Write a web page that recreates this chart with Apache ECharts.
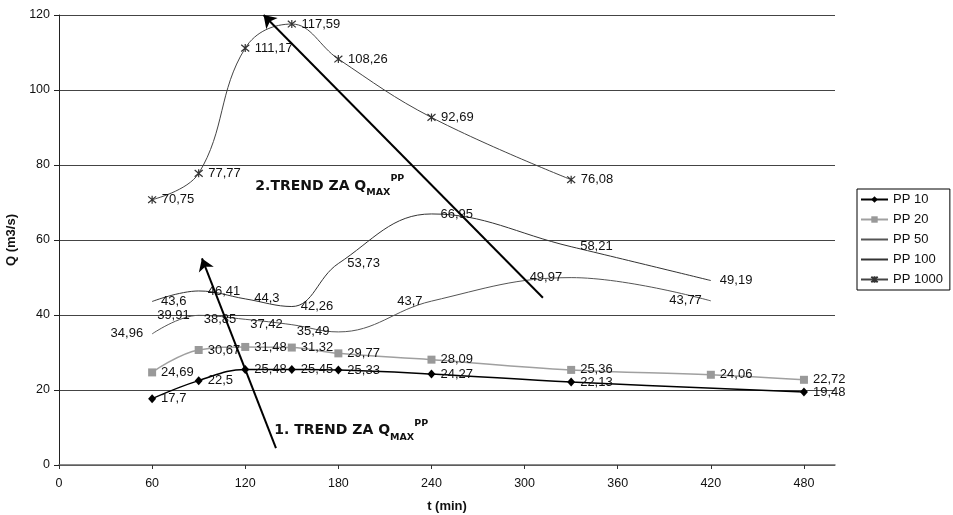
<!DOCTYPE html>
<html>
<head>
<meta charset="utf-8">
<script src="https://cdn.jsdelivr.net/npm/echarts@6/dist/echarts.min.js"></script>
<style>
html,body{margin:0;padding:0;background:#fff;}
#chart{width:953px;height:515px;}
</style>
</head>
<body>
<div id="chart"></div>
<script>
// ---- data ----
const seriesNames = ['PP 10', 'PP 20', 'PP 50', 'PP 100', 'PP 1000'];
const tPP10 = [60, 90, 120, 150, 180, 240, 330, 480];
const qPP10 = [17.7, 22.5, 25.48, 25.45, 25.33, 24.27, 22.13, 19.48];
const tPP20 = [60, 90, 120, 150, 180, 240, 330, 420, 480];
const qPP20 = [24.69, 30.67, 31.48, 31.32, 29.77, 28.09, 25.36, 24.06, 22.72];
const tPP50 = [60, 90, 120, 150, 180, 240, 330, 420];
const qPP50 = [34.96, 39.91, 38.85, 37.42, 35.49, 43.7, 49.97, 43.77];
const tPP100 = [60, 90, 120, 150, 180, 240, 330, 420];
const qPP100 = [43.6, 46.41, 44.3, 42.26, 53.73, 66.95, 58.21, 49.19];
const tPP1000 = [60, 90, 120, 150, 180, 240, 330];
const qPP1000 = [70.75, 77.77, 111.17, 117.59, 108.26, 92.69, 76.08];
const xTicks = [0, 60, 120, 180, 240, 300, 360, 420, 480];
// trend arrows in data coordinates: [from, to]
const trend1 = [[139.8, 4.5], [92.1, 55.1]];
const trend2 = [[311.8, 44.6], [131.8, 120]];
// annotation text anchors (left edge, vertical middle) in data coordinates
const note1Pos = [138.7, 9.3];
const note2Pos = [126.5, 74.4];
const note1Text = ['1. TREND ZA Q', 'MAX', 'PP'];
const note2Text = ['2.TREND ZA Q', 'MAX', 'PP'];

const pairs = (xs, ys) => xs.map((x, i) => [x, ys[i]]);
const fmt = p => String(p.value[1]).replace('.', ',');
const FONT = 'Liberation Sans, Arial, sans-serif';
const labelBase = {
  show: true, position: 'right', distance: 5, formatter: fmt,
  color: '#111', fontSize: 13, fontFamily: FONT
};
const VFONT = 'DejaVu Sans, Verdana, sans-serif';
const richNote = {
  b: {fontFamily: VFONT, fontWeight: 'bold', fontSize: 14, color: '#111', lineHeight: 24, verticalAlign: 'middle'},
  sub: {fontFamily: VFONT, fontWeight: 'bold', fontSize: 9.5, color: '#111', lineHeight: 14, verticalAlign: 'bottom'},
  sup: {fontFamily: VFONT, fontWeight: 'bold', fontSize: 9.5, color: '#111', lineHeight: 13, verticalAlign: 'top'}
};
const noteFmt = parts => '{b|' + parts[0] + '}{sub|' + parts[1] + '}{sup|' + parts[2] + '}';
const asterisk = 'path://M0,0L10,10M10,0L0,10M5,-1L5,11';

const chart = echarts.init(document.getElementById('chart'), null, {renderer: 'canvas'});
chart.setOption({
  animation: false,
  backgroundColor: '#fff',
  grid: {left: 59, right: 118, top: 15, bottom: 50, containLabel: false, outerBoundsMode: 'none'},
  legend: {
    orient: 'vertical', left: 857, top: 189,
    data: seriesNames,
    itemWidth: 27, itemHeight: 8, itemGap: 7,
    padding: [4, 7, 4, 3],
    borderColor: '#000', borderWidth: 1,
    textStyle: {fontSize: 13, color: '#111', fontFamily: FONT},
    selectedMode: false
  },
  xAxis: {
    type: 'value', min: 0, max: 500, interval: 60,
    name: 't (min)', nameLocation: 'middle', nameGap: 35,
    nameTextStyle: {fontSize: 13, fontWeight: 'bold', color: '#111', fontFamily: FONT},
    axisLine: {lineStyle: {color: '#666', width: 1.5}},
    axisTick: {show: true, length: 4, lineStyle: {color: '#333'}, customValues: xTicks},
    axisLabel: {fontSize: 12.5, color: '#111', margin: 12, fontFamily: FONT, customValues: xTicks},
    splitLine: {show: false}
  },
  yAxis: {
    type: 'value', min: 0, max: 120, interval: 20,
    name: 'Q (m3/s)', nameLocation: 'middle', nameGap: 37,
    nameTextStyle: {fontSize: 13, fontWeight: 'bold', color: '#111', fontFamily: FONT},
    axisLine: {show: true, lineStyle: {color: '#222', width: 1}},
    axisTick: {show: true, length: 5, lineStyle: {color: '#222'}},
    axisLabel: {fontSize: 12.5, color: '#111', margin: 9, fontFamily: FONT},
    splitLine: {show: true, lineStyle: {color: '#444', width: 1}}
  },
  series: [
    {
      name: 'PP 10', type: 'line', smooth: 0.4,
      data: pairs(tPP10, qPP10),
      symbol: 'diamond', symbolSize: [8, 9],
      itemStyle: {color: '#000'},
      lineStyle: {color: '#000', width: 1.5},
      label: labelBase,
      z: 5,
      markLine: {
        silent: true, symbol: ['none', 'arrow'], symbolSize: 12,
        lineStyle: {color: '#000', width: 2, type: 'solid'},
        itemStyle: {color: '#000'},
        label: {show: false},
        emphasis: {disabled: true},
        data: [
          [{coord: trend1[0]}, {coord: trend1[1]}],
          [{coord: trend2[0]}, {coord: trend2[1]}]
        ]
      },
      markPoint: {
        silent: true, symbol: 'circle', symbolSize: 0,
        label: {show: true, position: 'right', distance: 0, rich: richNote},
        data: [
          {coord: note1Pos, label: {formatter: noteFmt(note1Text)}},
          {coord: note2Pos, label: {formatter: noteFmt(note2Text)}}
        ]
      }
    },
    {
      name: 'PP 20', type: 'line', smooth: 0.4,
      data: pairs(tPP20, qPP20),
      symbol: 'rect', symbolSize: 8,
      itemStyle: {color: '#999'},
      lineStyle: {color: '#a0a0a0', width: 1.5},
      label: labelBase,
      z: 4
    },
    {
      name: 'PP 50', type: 'line', smooth: 0.4,
      data: pairs(tPP50, qPP50),
      symbol: 'circle', symbolSize: 8,
      itemStyle: {color: 'rgba(0,0,0,0)'},
      lineStyle: {color: '#555', width: 1},
      label: Object.assign({}, labelBase, {position: 'left'}),
      z: 3
    },
    {
      name: 'PP 100', type: 'line', smooth: 0.4,
      data: pairs(tPP100, qPP100),
      symbol: 'circle', symbolSize: 8,
      itemStyle: {color: 'rgba(0,0,0,0)'},
      lineStyle: {color: '#333', width: 1},
      label: labelBase,
      z: 3
    },
    {
      name: 'PP 1000', type: 'line', smooth: 0.4,
      data: pairs(tPP1000, qPP1000),
      symbol: asterisk, symbolSize: 8,
      itemStyle: {color: 'rgba(0,0,0,0)', borderColor: '#333', borderWidth: 1.2},
      lineStyle: {color: '#444', width: 1},
      label: labelBase,
      z: 3
    }
  ]
});
</script>
</body>
</html>
